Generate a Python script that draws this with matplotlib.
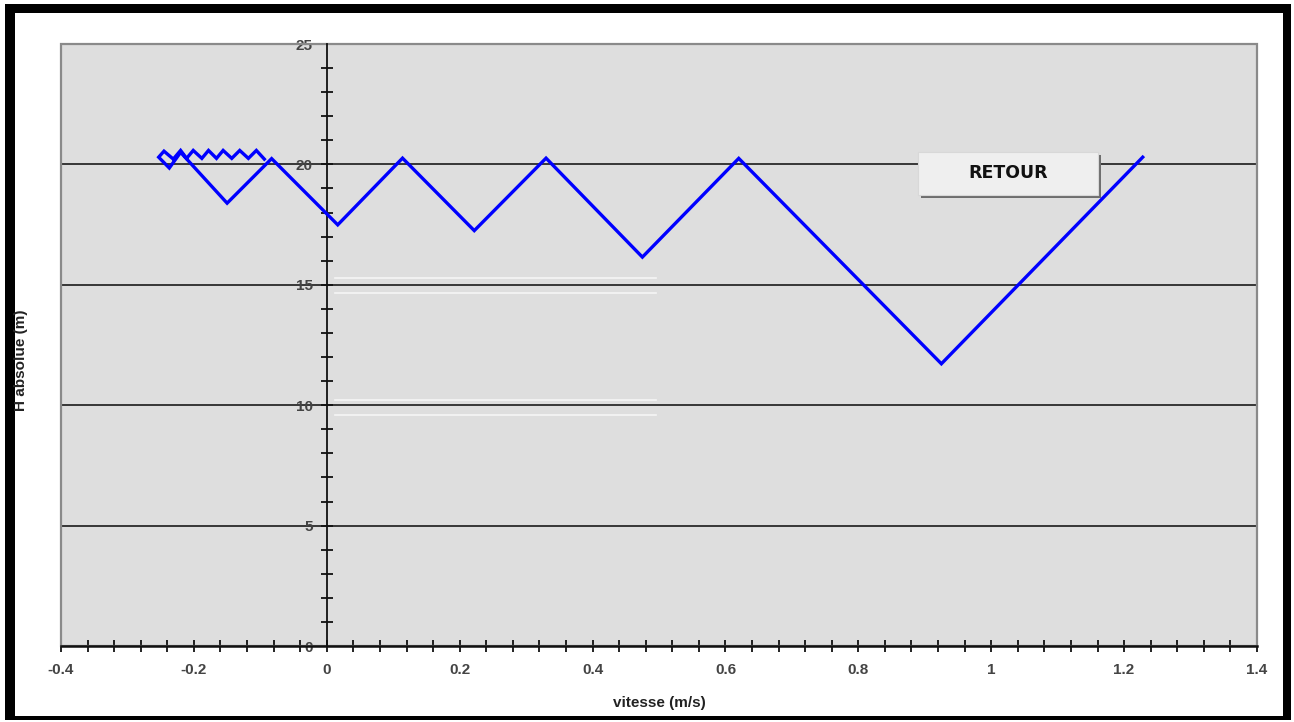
import matplotlib
matplotlib.use("Agg")
import matplotlib.pyplot as plt
from matplotlib.patches import Rectangle
from matplotlib.ticker import MultipleLocator, FuncFormatter

# Trajectory of the operating point (velocity, absolute head)
vitesse = [1.228, 0.925, 0.620, 0.475, 0.330, 0.222, 0.114, 0.0165, -0.083,
           -0.150, -0.220, -0.237, -0.253, -0.245, -0.231, -0.220, -0.211,
           -0.201, -0.188, -0.178, -0.166, -0.156, -0.143, -0.131, -0.118,
           -0.106, -0.094]
h_absolue = [20.30, 11.72, 20.25, 16.15, 20.26, 17.25, 20.26, 17.49, 20.24,
             18.39, 20.50, 19.85, 20.30, 20.55, 20.22, 20.58, 20.25,
             20.58, 20.25, 20.58, 20.25, 20.58, 20.25, 20.58, 20.25,
             20.58, 20.22]

x_ticks = [-0.4, -0.2, 0, 0.2, 0.4, 0.6, 0.8, 1, 1.2, 1.4]
y_ticks = [0, 5, 10, 15, 20, 25]

W, H = 1294, 722
fig = plt.figure(figsize=(W / 100, H / 100), dpi=100)
fig.patch.set_facecolor("white")

def px_box(x0, y0, x1, y1):
    return (x0 / W, 1 - y1 / H), (x1 - x0) / W, (y1 - y0) / H

# window frame
for (x0, y0, x1, y1) in [(5, 4, 15, 720), (5, 4, 1291, 13),
                          (1283, 4, 1291, 720), (5, 716, 1291, 720)]:
    xy, w, h = px_box(x0, y0, x1, y1)
    fig.add_artist(Rectangle(xy, w, h, transform=fig.transFigure,
                             facecolor="black", edgecolor="none", zorder=10))

left, right, top, bottom = 61, 1257, 44, 646
ax = fig.add_axes([left / W, 1 - bottom / H, (right - left) / W, (bottom - top) / H])
ax.set_facecolor("#dedede")
ax.set_xlim(-0.4, 1.4)
ax.set_ylim(0, 25)

# plot-area border
ax.add_patch(Rectangle((0, 0), 1, 1, transform=ax.transAxes, fill=False,
                       edgecolor="#8a8a8a", linewidth=1.6, zorder=1, clip_on=False))

for s in ["top", "right"]:
    ax.spines[s].set_visible(False)
ax.spines["left"].set_position(("data", 0))
ax.spines["left"].set_color("#111111")
ax.spines["left"].set_linewidth(1.3)
ax.spines["bottom"].set_color("#111111")
ax.spines["bottom"].set_linewidth(1.8)

ax.set_xticks(x_ticks)
ax.set_yticks(y_ticks)
ax.xaxis.set_minor_locator(MultipleLocator(0.04))
ax.yaxis.set_minor_locator(MultipleLocator(1))
ax.xaxis.set_major_formatter(FuncFormatter(lambda v, p: f"{v:g}"))
ax.tick_params(axis="both", which="both", direction="inout", length=8,
               width=1.3, color="#111111", labelsize=11, labelcolor="#444444")
ax.tick_params(axis="x", which="major", pad=8)
ax.tick_params(axis="y", which="major", pad=6)
for lab in ax.get_xticklabels() + ax.get_yticklabels():
    lab.set_family("Liberation Sans")
    lab.set_fontweight("bold")

# horizontal gridlines
ax.yaxis.grid(True, which="major", color="#2a2a2a", linewidth=1.3)
ax.set_axisbelow(True)

# faint light streaks inside the plot area
for yy in [15.3, 14.65, 10.2, 9.6]:
    ax.plot([0.013, 0.495], [yy, yy], color="white", linewidth=1.2, alpha=0.7, zorder=1)

ax.plot(vitesse, h_absolue, color="#0000ff", linewidth=2.4, zorder=4,
        solid_joinstyle="miter")

ax.set_xlabel("vitesse (m/s)", fontsize=11, fontweight="bold",
              family="Liberation Sans", color="#222222", labelpad=14)
fig.text(21 / W, 1 - 360 / H, "H absolue (m)", rotation=90, ha="center",
         va="center", fontsize=11, fontweight="bold", family="Liberation Sans",
         color="#222222", zorder=12)

# RETOUR button
bx0, by0, bx1, by1 = 918, 152, 1098, 195
xy, w, h = px_box(bx0 + 3, by0 + 3, bx1 + 3, by1 + 3)
fig.add_artist(Rectangle(xy, w, h, transform=fig.transFigure,
                         facecolor="#6e6e6e", edgecolor="none", zorder=5))
xy, w, h = px_box(bx0, by0, bx1, by1)
fig.add_artist(Rectangle(xy, w, h, transform=fig.transFigure,
                         facecolor="#efefef", edgecolor="#d8d8d8", linewidth=0.8, zorder=6))
fig.text((bx0 + bx1) / 2 / W, 1 - 173 / H, "RETOUR", ha="center", va="center",
         fontsize=12.5, fontweight="bold", family="DejaVu Sans",
         color="#111111", zorder=7)

fig.savefig("out.png", dpi=100, facecolor="white")
